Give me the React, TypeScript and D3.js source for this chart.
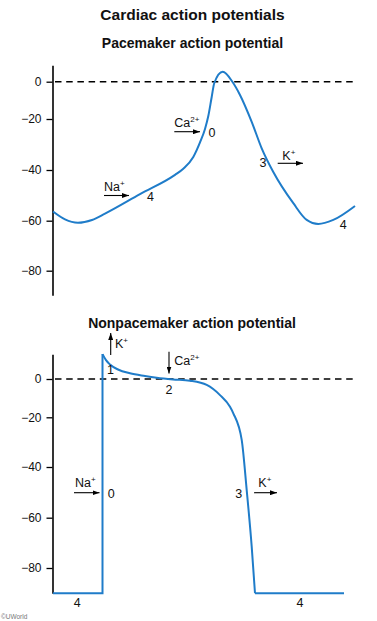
import React, { useEffect, useRef } from 'react';
import * as d3 from 'd3';

const W = 377;
const H = 621;
const BLUE = '#1f7cc9';
const FONT = 'Liberation Sans, Arial, Helvetica, sans-serif';

const yTicks = [-80, -60, -40, -20, 0];

// Pacemaker action potential (time in px-like units, voltage in mV)
const paceT = [0, 12, 25, 39, 52, 87, 122, 130.3, 140.3, 147, 152, 155.3, 158.7, 161.3, 169.7, 179.7, 187, 198.7, 208.7, 220.3, 240.3, 253.7, 265.3, 280.3, 302];
const paceV = [-56.4, -59.5, -60.8, -59.7, -57.2, -49.5, -41.9, -39.5, -34.9, -29.2, -23.9, -18.4, -8.2, -0.7, 5.4, -0.3, -7.1, -21.1, -31.5, -40.8, -53.1, -59.7, -61.3, -59.7, -54.2];

// Nonpacemaker: resting (phase 4) + upstroke (phase 0)
const restT = [0, 49.5, 49.5];
const restV = [-90, -90, 13.1];
// Phases 1-3
const plateauT = [49.5, 53, 57, 65, 77, 92, 103.7, 120, 137, 153.7, 167, 177, 180.3, 188.7, 193.7, 198.7, 202];
const plateauV = [13.1, 9.9, 7.6, 5.0, 3.0, 1.6, 0.7, -0.2, -0.9, -3.1, -8.4, -14.5, -17.9, -29.1, -49.1, -71.5, -90];
// Phase 4 again
const rest2T = [202, 291];
const rest2V = [-90, -90];

const xScale = d3.scaleLinear().domain([0, 303]).range([53, 356]);

const yTop = d3
  .scaleLinear()
  .domain([-90, -80, -60, -40, -20, 0, 9])
  .range([295.3, 270.7, 220.7, 170, 119, 81.7, 65.3]);

const yBot = d3
  .scaleLinear()
  .domain([-90, -80, -60, -40, -20, 0, 13])
  .range([593.3, 568, 517.7, 467, 417.3, 379, 354.3]);

const zip = (t: number[], v: number[]) => t.map((d, i) => [d, v[i]] as [number, number]);

function Axis({ scale }: { scale: d3.ScaleLinear<number, number> }) {
  const ref = useRef<SVGGElement>(null);
  useEffect(() => {
    if (!ref.current) return;
    const g = d3.select(ref.current);
    g.selectAll('*').remove();
    g.call(
      d3
        .axisLeft(scale)
        .tickValues(yTicks)
        .tickSize(6)
        .tickSizeOuter(0)
        .tickPadding(5)
        .tickFormat((d) => d3.format('d')(d as number).replace('-', '\u2212'))
    );
    g.select('.domain').attr('stroke', '#000').attr('stroke-width', 1.6);
    g.selectAll('.tick line').attr('stroke', '#000').attr('stroke-width', 1.3);
    g.selectAll('.tick text')
      .attr('fill', '#111')
      .style('font-family', FONT)
      .style('font-size', '12px');
  }, [scale]);
  return <g ref={ref} transform={`translate(${xScale(0) - 0.5},0)`} />;
}

function Arrow({ x1, y1, x2, y2 }: { x1: number; y1: number; x2: number; y2: number }) {
  return <line x1={x1} y1={y1} x2={x2} y2={y2} stroke="#000" strokeWidth={1.1} markerEnd="url(#ah)" />;
}

function Ion({ x, y, base, sup, anchor = 'start' }: { x: number; y: number; base: string; sup: string; anchor?: string }) {
  return (
    <text x={x} y={y} fontSize={12.5} fontFamily={FONT} fill="#111" textAnchor={anchor as any}>
      {base}
      <tspan fontSize={8} dy={-5}>
        {sup}
      </tspan>
    </text>
  );
}

function Num({ x, y, t }: { x: number; y: number; t: string }) {
  return (
    <text x={x} y={y} fontSize={12.5} fontFamily={FONT} fill="#111" textAnchor="middle">
      {t}
    </text>
  );
}

export default function App() {
  const lineTop = d3
    .line<[number, number]>()
    .x((d) => xScale(d[0]))
    .y((d) => yTop(d[1]))
    .curve(d3.curveMonotoneX);
  const lineBotCurve = d3
    .line<[number, number]>()
    .x((d) => xScale(d[0]))
    .y((d) => yBot(d[1]))
    .curve(d3.curveMonotoneX);
  const lineBotLin = d3
    .line<[number, number]>()
    .x((d) => xScale(d[0]))
    .y((d) => yBot(d[1]));

  return (
    <svg width={W} height={H} style={{ position: 'absolute', left: 0, top: 0, background: '#fff' }}>
      <defs>
        <marker id="ah" viewBox="0 0 7 5" refX={7} refY={2.5} markerWidth={7} markerHeight={5} markerUnits="userSpaceOnUse" orient="auto">
          <path d="M0,0 L7,2.5 L0,5 z" fill="#000" />
        </marker>
      </defs>

      <text x={192.5} y={19.5} textAnchor="middle" fontFamily={FONT} fontWeight="bold" fontSize={15.5} fill="#111">
        Cardiac action potentials
      </text>
      <text x={192.5} y={47.5} textAnchor="middle" fontFamily={FONT} fontWeight="bold" fontSize={14} fill="#111">
        Pacemaker action potential
      </text>
      <text x={192} y={327.5} textAnchor="middle" fontFamily={FONT} fontWeight="bold" fontSize={14} fill="#111">
        Nonpacemaker action potential
      </text>

      {/* Top panel */}
      <line x1={xScale(2)} x2={xScale(303)} y1={yTop(0)} y2={yTop(0)} stroke="#000" strokeWidth={1.6} strokeDasharray="6.5,4.7" />
      <Axis scale={yTop} />
      <path d={lineTop(zip(paceT, paceV)) || ''} fill="none" stroke={BLUE} strokeWidth={2} strokeLinejoin="round" />

      <Ion x={104} y={190.5} base="Na" sup="+" />
      <Arrow x1={104} y1={195.5} x2={129} y2={195.5} />
      <Num x={150.5} y={201} t="4" />

      <Ion x={174.3} y={126.7} base="Ca" sup="2+" />
      <Arrow x1={174.3} y1={131.7} x2={200} y2={131.7} />
      <Num x={212} y={136.7} t="0" />

      <Num x={263} y={167.3} t="3" />
      <Ion x={282.3} y={160} base="K" sup="+" />
      <Arrow x1={277.7} y1={163.3} x2={303} y2={163.3} />
      <Num x={343.3} y={228.5} t="4" />

      {/* Bottom panel */}
      <line x1={xScale(2)} x2={xScale(303)} y1={yBot(0)} y2={yBot(0)} stroke="#000" strokeWidth={1.6} strokeDasharray="6.5,4.7" />
      <Axis scale={yBot} />
      <path d={lineBotLin(zip(restT, restV)) || ''} fill="none" stroke={BLUE} strokeWidth={2} />
      <path d={lineBotCurve(zip(plateauT, plateauV)) || ''} fill="none" stroke={BLUE} strokeWidth={2} strokeLinejoin="round" />
      <path d={lineBotLin(zip(rest2T, rest2V)) || ''} fill="none" stroke={BLUE} strokeWidth={2} />

      <Arrow x1={110.7} y1={355} x2={110.7} y2={333} />
      <Ion x={115} y={348.3} base="K" sup="+" />
      <Num x={110.5} y={374} t="1" />

      <Arrow x1={169} y1={351.7} x2={169} y2={373.5} />
      <Ion x={174.3} y={365} base="Ca" sup="2+" />
      <Num x={169} y={394} t="2" />

      <Ion x={75} y={487.3} base="Na" sup="+" />
      <Arrow x1={74} y1={492.7} x2={99.5} y2={492.7} />
      <Num x={111.3} y={498.3} t="0" />

      <Num x={238.7} y={498.3} t="3" />
      <Ion x={258.3} y={487.3} base="K" sup="+" />
      <Arrow x1={254} y1={492.7} x2={277} y2={492.7} />

      <Num x={77.3} y={606.7} t="4" />
      <Num x={300} y={606.7} t="4" />

      <text x={1} y={619} fontSize={6.5} fontFamily={FONT} fill="#777">
        ©UWorld
      </text>
    </svg>
  );
}
